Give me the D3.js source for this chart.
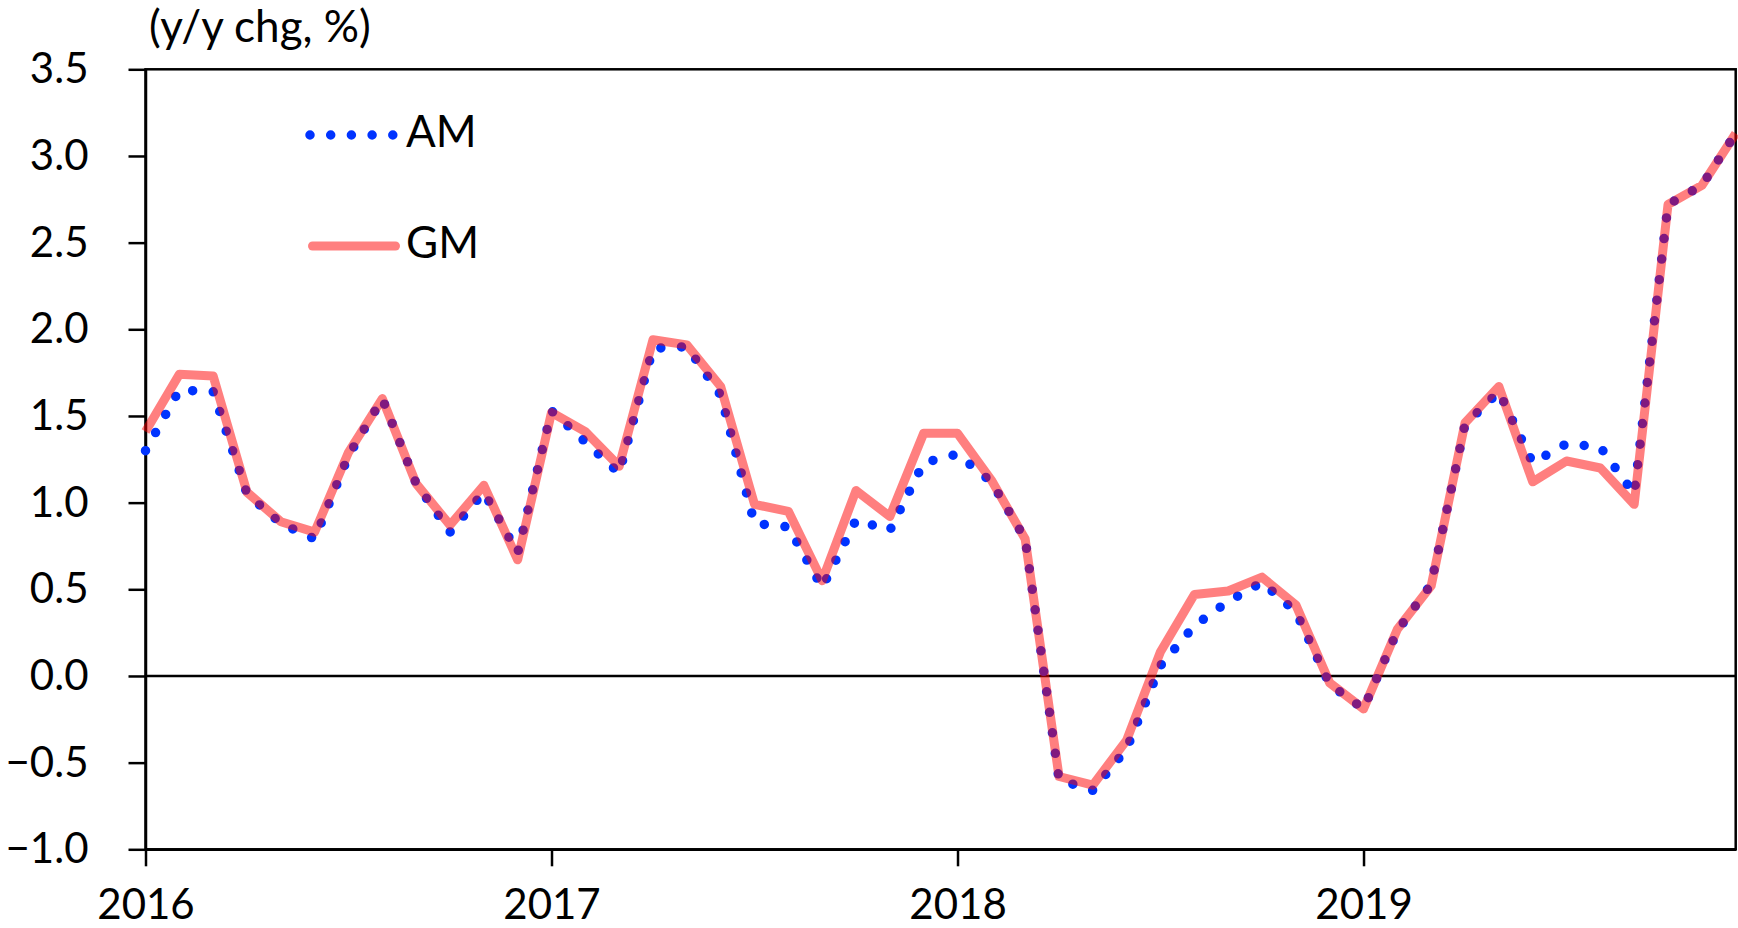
<!DOCTYPE html>
<html>
<head>
<meta charset="utf-8">
<script src="https://cdn.jsdelivr.net/npm/d3@7"></script>
<style>
  body { margin: 0; background: #fff; }
  text { font-family: Lato, "Open Sans", sans-serif; fill: #000; }
</style>
</head>
<body>
<div id="chart"></div>
<script>
// monthly, Jan 2016 .. Dec 2019
let yearLabels = ["2016", "2017", "2018", "2019"];
let yTicks = [-1.0, -0.5, 0.0, 0.5, 1.0, 1.5, 2.0, 2.5, 3.0, 3.5];

let amValues = [
    1.30, 1.65, 1.64, 1.05, 0.88, 0.79, 1.27, 1.60, 1.11, 0.83, 1.06, 0.71,
    1.53, 1.35, 1.17, 1.89, 1.90, 1.62, 0.88, 0.86, 0.51, 0.90, 0.84, 1.23,
    1.28, 1.12, 0.79, -0.60, -0.66, -0.42, 0.06, 0.29, 0.43, 0.54, 0.37, -0.05,
    -0.19, 0.26, 0.53, 1.45, 1.64, 1.23, 1.34, 1.32, 1.05, 2.72, 2.83, 3.13
];
let gmValues = [
    1.41, 1.74, 1.73, 1.06, 0.89, 0.83, 1.29, 1.60, 1.11, 0.87, 1.10, 0.67,
    1.52, 1.41, 1.21, 1.94, 1.91, 1.67, 0.99, 0.95, 0.55, 1.07, 0.92, 1.40,
    1.40, 1.13, 0.79, -0.58, -0.63, -0.37, 0.14, 0.47, 0.49, 0.57, 0.41, -0.04,
    -0.19, 0.27, 0.52, 1.46, 1.67, 1.12, 1.24, 1.20, 0.99, 2.72, 2.83, 3.13
];

let width = 1738;
let height = 928;
let plotL = 145.5, plotR = 1735.7, plotT = 69.3, plotB = 849.3;
let amColor = "rgb(0, 51, 255)";
let gmColor = "rgba(255, 0, 0, 0.5)";

let svg = d3.select('#chart')
    .append('svg')
    .attr('width', width)
    .attr('height', height);

let x = d3.scaleLinear()
    .domain([0, amValues.length - 1])
    .range([plotL, plotR]);

let y = d3.scaleLinear()
    .domain([-1, 3.5])
    .range([plotB, plotT]);

// frame
svg.append('rect')
    .attr('x', plotL)
    .attr('y', plotT)
    .attr('width', plotR - plotL)
    .attr('height', plotB - plotT)
    .attr('fill', 'none')
    .attr('stroke', '#000')
    .attr('stroke-width', 2.5);

let yAxis = d3.axisLeft(y)
    .tickValues(yTicks)
    .tickFormat(d3.format('.1f'))
    .tickSize(17)
    .tickSizeOuter(0)
    .tickPadding(40);
let gy = svg.append('g')
    .attr('transform', 'translate(' + plotL + ',0)')
    .call(yAxis);

let xAxis = d3.axisBottom(x)
    .tickValues(yearLabels.map((d, i) => i * 12))
    .tickFormat((d, i) => yearLabels[i])
    .tickSize(17)
    .tickSizeOuter(0)
    .tickPadding(23);
let gx = svg.append('g')
    .attr('transform', 'translate(0,' + plotB + ')')
    .call(xAxis);

[gx, gy].forEach(function (g) {
    g.select('.domain').attr('stroke-width', 2.5);
    g.selectAll('.tick line').attr('stroke-width', 2.5);
    g.selectAll('.tick text')
        .style('font-size', '42px')
        .attr('fill', '#000');
});

// zero line
svg.append('line')
    .attr('x1', plotL)
    .attr('x2', plotR)
    .attr('y1', y(0))
    .attr('y2', y(0))
    .attr('stroke', '#000')
    .attr('stroke-width', 2.5);

let line = d3.line()
    .x((d, i) => x(i))
    .y(d => y(d));

svg.append('path')
    .attr('d', line(amValues))
    .attr('fill', 'none')
    .attr('stroke', amColor)
    .attr('stroke-width', 9.5)
    .attr('stroke-linecap', 'round')
    .attr('stroke-dasharray', '0,20.7');

svg.append('path')
    .attr('d', line(gmValues))
    .attr('fill', 'none')
    .attr('stroke', gmColor)
    .attr('stroke-width', 9)
    .attr('stroke-linejoin', 'round');

// unit label
svg.append('text')
    .attr('x', 149)
    .attr('y', 42)
    .style('font-size', '44px')
    .text('(y/y chg, %)');

// legend
svg.append('path')
    .attr('d', 'M310,135H393')
    .attr('fill', 'none')
    .attr('stroke', amColor)
    .attr('stroke-width', 9.5)
    .attr('stroke-linecap', 'round')
    .attr('stroke-dasharray', '0,20.7');
svg.append('text')
    .attr('x', 406)
    .attr('y', 147)
    .style('font-size', '44px')
    .text('AM');

svg.append('path')
    .attr('d', 'M312.5,246H395.5')
    .attr('fill', 'none')
    .attr('stroke', gmColor)
    .attr('stroke-width', 9)
    .attr('stroke-linecap', 'round');
svg.append('text')
    .attr('x', 406)
    .attr('y', 258)
    .style('font-size', '44px')
    .text('GM');
</script>
</body>
</html>
